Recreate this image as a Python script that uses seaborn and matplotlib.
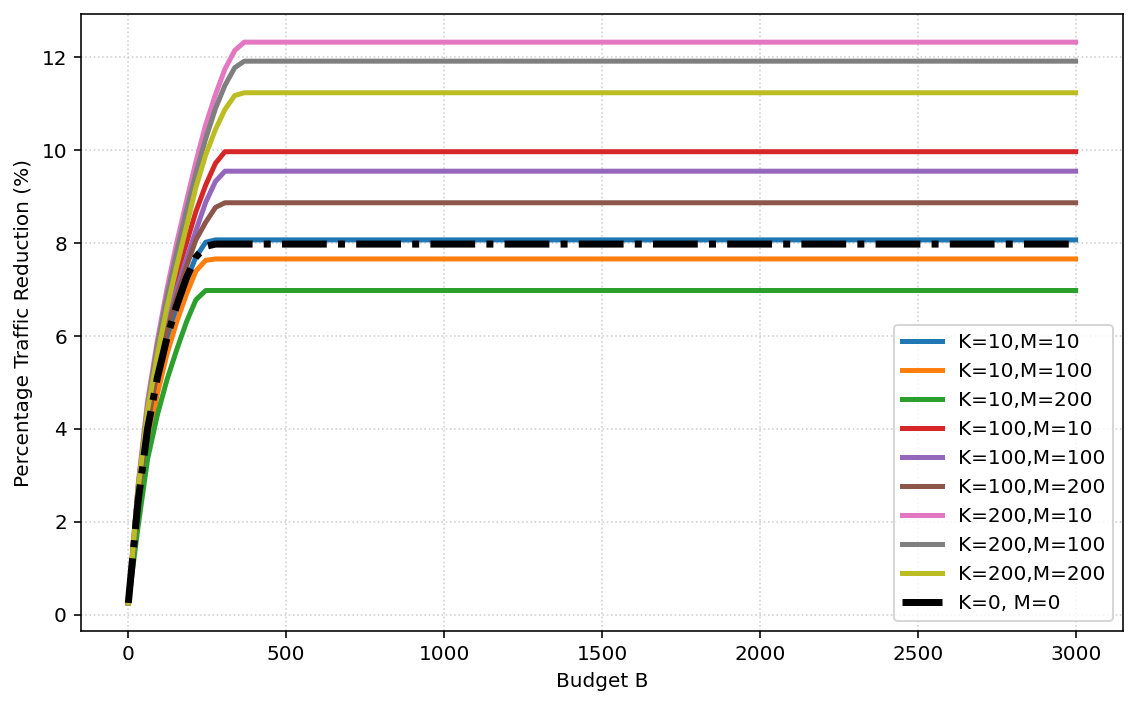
import numpy as np
import pandas as pd
import matplotlib
matplotlib.use("Agg")
import matplotlib.pyplot as plt
import seaborn as sns

# budget values where the curves were sampled, last point is the end of the plateau
budget = [0, 31, 61, 92, 122, 153, 184, 214, 245, 276, 306, 337, 367, 3000]

# percentage traffic reduction for each (K, M) setting
k10_m10 = [0.25, 2.4, 3.95, 5.05, 5.9, 6.6, 7.2, 7.7, 8.02, 8.07, 8.07, 8.07, 8.07, 8.07]
k10_m100 = [0.25, 2.2, 3.7, 4.75, 5.6, 6.3, 6.9, 7.4, 7.63, 7.66, 7.66, 7.66, 7.66, 7.66]
k10_m200 = [0.25, 1.9, 3.35, 4.3, 5.05, 5.7, 6.3, 6.78, 6.98, 6.98, 6.98, 6.98, 6.98, 6.98]
k100_m10 = [0.25, 2.65, 4.3, 5.5, 6.5, 7.3, 8.0, 8.68, 9.25, 9.72, 9.97, 9.97, 9.97, 9.97]
k100_m100 = [0.25, 2.6, 4.2, 5.4, 6.3, 7.0, 7.65, 8.27, 8.88, 9.33, 9.55, 9.55, 9.55, 9.55]
k100_m200 = [0.25, 2.5, 4.1, 5.25, 6.1, 6.85, 7.5, 8.07, 8.45, 8.77, 8.87, 8.87, 8.87, 8.87]
k200_m10 = [0.25, 2.8, 4.6, 5.9, 7.0, 8.0, 8.9, 9.75, 10.55, 11.2, 11.75, 12.15, 12.33, 12.33]
k200_m100 = [0.25, 2.75, 4.5, 5.8, 6.85, 7.8, 8.7, 9.5, 10.25, 10.9, 11.4, 11.78, 11.92, 11.92]
k200_m200 = [0.25, 2.7, 4.4, 5.6, 6.6, 7.5, 8.35, 9.2, 9.9, 10.45, 10.88, 11.18, 11.24, 11.24]
k0_m0 = [0.25, 2.45, 4.0, 5.1, 5.95, 6.65, 7.25, 7.7, 7.93, 7.98, 7.98, 7.98, 7.98, 7.98]

labels = ["K=10,M=10", "K=10,M=100", "K=10,M=200",
          "K=100,M=10", "K=100,M=100", "K=100,M=200",
          "K=200,M=10", "K=200,M=100", "K=200,M=200"]
series = [k10_m10, k10_m100, k10_m200, k100_m10, k100_m100, k100_m200,
          k200_m10, k200_m100, k200_m200]

fig, ax = plt.subplots(figsize=(1137 / 144, 705 / 144), dpi=144)
fig.subplots_adjust(left=0.0712, right=0.9877, top=0.980, bottom=0.105)

colors = sns.color_palette("tab10", 9)
for vals, lab, col in zip(series, labels, colors):
    df = pd.DataFrame({"budget": budget, "reduction": vals})
    sns.lineplot(data=df, x="budget", y="reduction", color=col, linewidth=2.5,
                 label=lab, ax=ax)

df0 = pd.DataFrame({"budget": budget, "reduction": k0_m0})
sns.lineplot(data=df0, x="budget", y="reduction", color="black", linewidth=3.5,
             linestyle="-.", label="K=0, M=0", ax=ax)

ax.grid(True, linestyle=":", alpha=0.6)
ax.set_xlabel("Budget B")
ax.set_ylabel("Percentage Traffic Reduction (%)")
ax.legend(loc="lower right")

fig.savefig("out.png", dpi=144)
